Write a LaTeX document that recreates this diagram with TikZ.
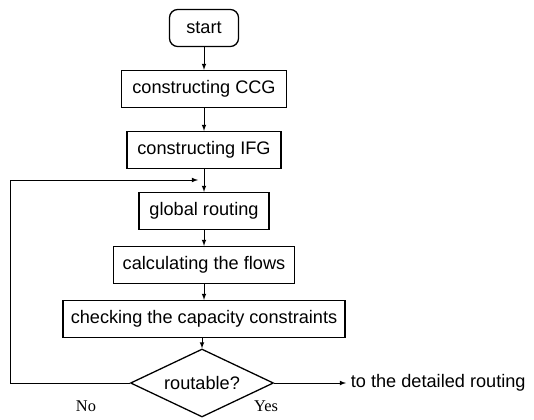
\documentclass[tikz,border=0pt]{standalone}
\usepackage{fontspec}
\setmainfont{Liberation Serif}
\setsansfont{Liberation Sans}
\usetikzlibrary{calc,arrows,shapes.geometric}

\tikzset{
    box/.style={draw, line width=1.1pt, inner sep=0pt, minimum height=1.11cm,
        font=\sffamily\fontsize{15.5}{18}\selectfont},
    txt/.style={inner sep=0pt, font=\sffamily\fontsize{15.5}{18}\selectfont},
    lbl/.style={inner sep=0pt, font=\fontsize{14}{16}\selectfont},
    flow/.style={line width=0.8pt, -latex},
}

\begin{document}
\begin{tikzpicture}[x=0.03cm, y=-0.03cm]
    \useasboundingbox (0,0) rectangle (534,419);
    % the steps, top to bottom
    \node[box, rounded corners=7pt, minimum width=2.07cm] (start) at (204,28) {start};
    \node[box, minimum width=4.95cm] (ccg) at (204,89) {constructing CCG};
    \node[box, minimum width=4.62cm] (ifg) at (204,150) {constructing IFG};
    \node[box, minimum width=3.9cm] (glob) at (204,211) {global routing};
    \node[box, minimum width=5.43cm] (flows) at (204,265) {calculating the flows};
    \node[box, minimum width=8.46cm] (check) at (204,319) {checking the capacity constraints};
    \node[box, diamond, aspect=2.1, minimum width=4.29cm, minimum height=2.04cm] (dia) at (202,383) {routable?};
    \node[txt, anchor=west, inner sep=4pt] (out) at (346,383) {to the detailed routing};
    \node[lbl] (no) at (86,406) {No};
    \node[lbl] (yes) at (266,406) {Yes};
    \coordinate (loop) at (10,180);
    \coordinate (back) at (198,180);

    \draw[flow] (start) -- (ccg);
    \draw[flow] (ccg) -- (ifg);
    \draw[flow] (ifg) -- (glob);
    \draw[flow] (glob) -- (flows);
    \draw[flow] (flows) -- (check);
    \draw[flow] (check.south -| dia.north) -- (dia.north);
    \draw[flow] (dia.east) -- (out.west);
    \draw[flow] (dia.west) -| (loop) -- (back);
\end{tikzpicture}
\end{document}
